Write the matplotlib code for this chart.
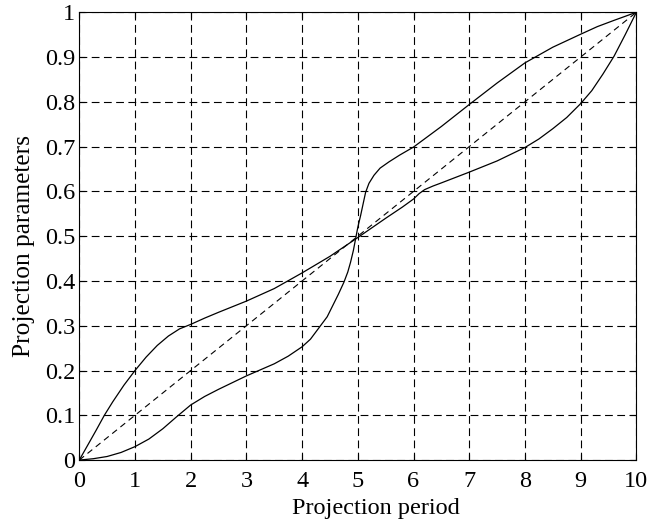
import matplotlib
matplotlib.use("Agg")
import matplotlib.pyplot as plt
from matplotlib.ticker import FixedLocator, FormatStrFormatter

# Data
xa = [0, 0.15, 0.3, 0.45, 0.6, 0.8, 1, 1.2, 1.4, 1.6, 1.8, 2, 2.25, 2.5, 3, 3.5,
      4, 4.5, 5, 5.5, 5.8, 6, 6.1, 6.2, 6.35, 6.5, 7, 7.5, 8, 8.25, 8.5, 8.75, 9,
      9.2, 9.4, 9.6, 9.8, 10]
ya = [0, 0.033, 0.066, 0.1, 0.13, 0.167, 0.2, 0.23, 0.256, 0.277, 0.293, 0.303,
      0.317, 0.33, 0.355, 0.383, 0.418, 0.455, 0.497, 0.54, 0.565, 0.583, 0.595,
      0.604, 0.612, 0.619, 0.643, 0.668, 0.698, 0.717, 0.74, 0.765, 0.796, 0.825,
      0.862, 0.902, 0.95, 1.0]

xb = [0, 0.25, 0.5, 0.75, 1, 1.25, 1.5, 1.75, 2, 2.25, 2.5, 3, 3.5, 3.75, 4, 4.15,
      4.3, 4.45, 4.55, 4.65, 4.75, 4.82, 4.87, 4.92, 4.96, 5.0, 5.05, 5.1, 5.14,
      5.2, 5.29, 5.4, 5.56, 5.75, 6, 6.5, 7, 7.5, 8, 8.5, 9, 9.3, 9.6, 9.8, 10]
yb = [0, 0.003, 0.008, 0.017, 0.03, 0.047, 0.07, 0.097, 0.123, 0.142, 0.158,
      0.188, 0.215, 0.232, 0.253, 0.27, 0.295, 0.32, 0.345, 0.37, 0.397, 0.42,
      0.442, 0.468, 0.494, 0.52, 0.546, 0.575, 0.598, 0.618, 0.636, 0.652, 0.666,
      0.681, 0.699, 0.745, 0.794, 0.842, 0.887, 0.922, 0.951, 0.968, 0.982, 0.991, 1]

xd = [0, 10]
yd = [0, 1]

xticks = [0, 1, 2, 3, 4, 5, 6, 7, 8, 9, 10]
yticks = [0, 0.1, 0.2, 0.3, 0.4, 0.5, 0.6, 0.7, 0.8, 0.9, 1]

plt.rcParams['font.family'] = ['Liberation Serif', 'DejaVu Serif']

fig = plt.figure(figsize=(6.52, 5.27), dpi=100)
ax = fig.add_axes([0.1216, 0.127, 0.8544, 0.8497])

ax.plot(xa, ya, color='black', lw=0.9)
ax.plot(xb, yb, color='black', lw=0.9)
ax.plot(xd, yd, color='black', lw=0.8, dashes=(5.5, 4))

ax.set_xlim(0, 10)
ax.set_ylim(0, 1)
ax.xaxis.set_major_locator(FixedLocator(xticks))
ax.yaxis.set_major_locator(FixedLocator(yticks))
ax.yaxis.set_major_formatter(FormatStrFormatter('%g'))
ax.xaxis.set_major_formatter(FormatStrFormatter('%g'))
ax.grid(True, color='black', lw=0.8, dashes=(7, 4))
ax.tick_params(direction='in', length=4, width=0.8, labelsize=17.5,
               top=True, right=True)
ax.tick_params(axis='y', pad=3)
ax.tick_params(axis='x', pad=8)
for s in ax.spines.values():
    s.set_linewidth(0.8)

ax.set_xlabel('Projection period', fontsize=17.5, va='center')
ax.xaxis.set_label_coords(0.532, -0.108)
ax.set_ylabel('Projection parameters', fontsize=18.3, va='center')
ax.yaxis.set_label_coords(-0.099, 0.477)

fig.savefig('out.png', dpi=100)
